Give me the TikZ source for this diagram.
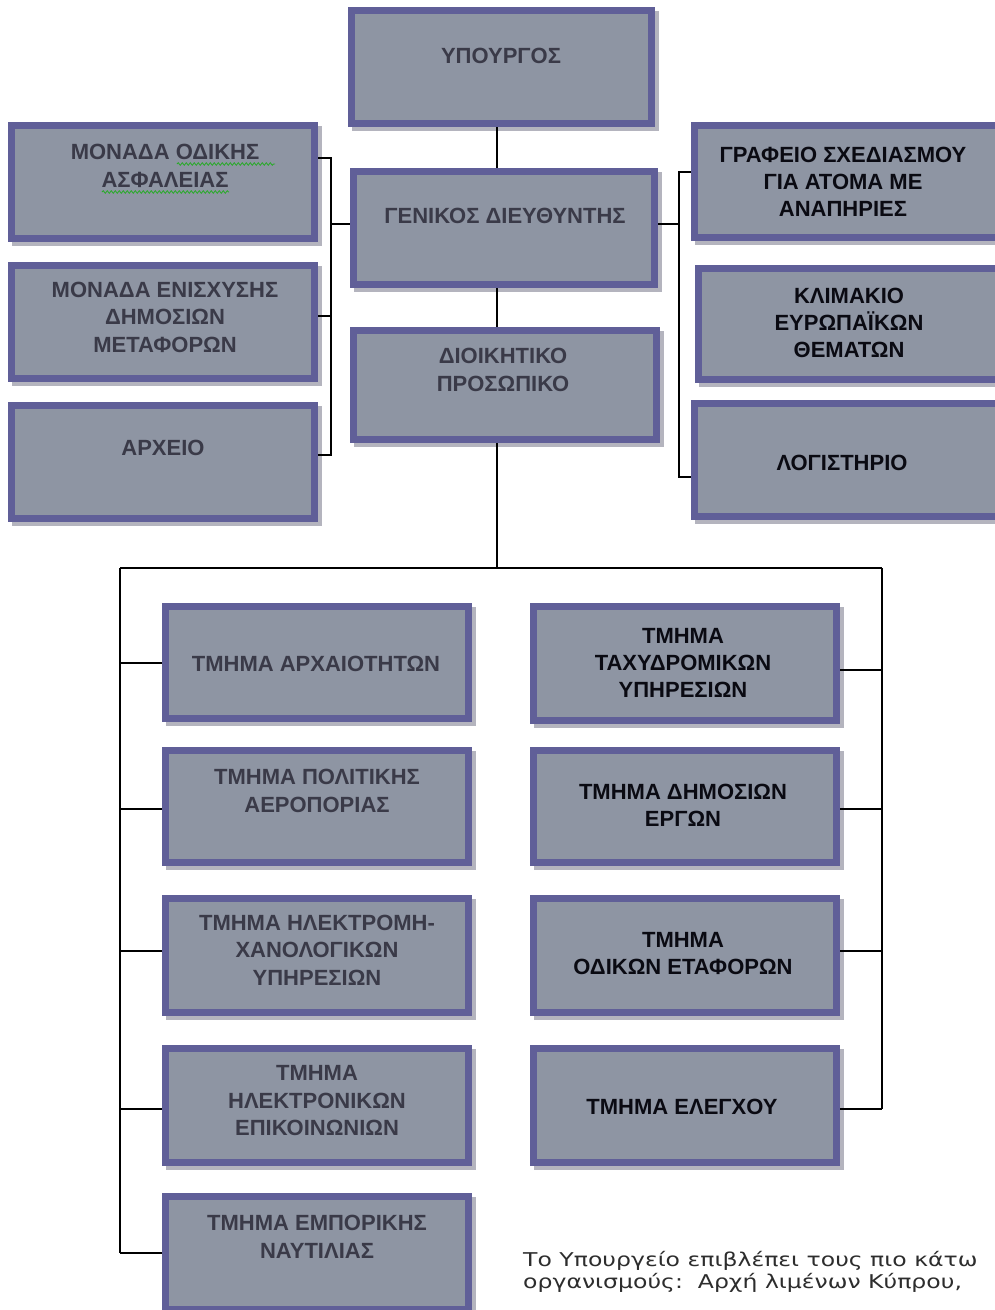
\documentclass[tikz,border=0pt]{standalone}
\usepackage{fontspec}
\setmainfont{Liberation Sans}
\newfontfamily\notefont[FakeStretch=1.24]{DejaVu Sans}
\usetikzlibrary{backgrounds,decorations.pathmorphing}

\definecolor{boxfill}{RGB}{142,149,163}
\definecolor{boxedge}{RGB}{96,95,152}
\definecolor{boxshadow}{RGB}{180,180,190}
\definecolor{greytext}{RGB}{58,58,72}
\definecolor{darktext}{RGB}{10,10,18}
\definecolor{notegrey}{RGB}{45,45,45}
\definecolor{spellgreen}{RGB}{40,170,40}

\tikzset{
  orgbox/.style={draw=boxedge, fill=boxfill, line width=7pt, inner sep=0pt},
  greylabel/.style={font=\bfseries\fontsize{22}{27.5}\selectfont, text=greytext, align=center, inner sep=0pt},
  darklabel/.style={font=\bfseries\fontsize{22}{27}\selectfont, text=darktext, align=center, inner sep=0pt},
  wire/.style={draw=black, line width=1.4pt},
  spell/.style={draw=spellgreen, line width=0.8pt, decorate,
    decoration={snake, amplitude=1.3pt, segment length=4pt}},
}

% \orgunit{name}{x1}{y1}{x2}{y2}: box given by its outer border edges
\newcommand\orgunit[5]{%
  \node[orgbox, minimum width={#4-#2-7}, minimum height={#5-#3-7}]
    (#1) at ({(#2+#4)/2},{(#3+#5)/2}) {};}

\begin{document}
\begin{tikzpicture}[x=1pt, y=-1pt]
\clip (0,0) rectangle (995,1310);

% central column
\orgunit{min}{348}{7}{655}{127}
\orgunit{gen}{350}{168}{658}{288}
\orgunit{dio}{350}{327}{660}{443}

% units on the left of the director
\orgunit{mon1}{8}{122}{318}{242}
\orgunit{mon2}{8}{262}{318}{382}
\orgunit{arch}{8}{402}{318}{522}

% units on the right of the director
\orgunit{graf}{691}{122}{1002}{241}
\orgunit{klim}{695}{265}{1002}{383}
\orgunit{log}{691}{400}{1002}{520}

% departments, left column
\orgunit{arx}{162}{603}{472}{722}
\orgunit{pol}{162}{747}{472}{866}
\orgunit{hlm}{162}{895}{472}{1016}
\orgunit{hln}{162}{1045}{472}{1166}
\orgunit{emp}{162}{1193}{472}{1313}

% departments, right column
\orgunit{tax}{530}{603}{840}{724}
\orgunit{dim}{530}{747}{840}{866}
\orgunit{odi}{530}{895}{840}{1016}
\orgunit{ele}{530}{1045}{840}{1166}

% white page and soft shadows behind every box
\begin{scope}[on background layer]
  \fill[white] (0,0) rectangle (995,1310);
  \foreach \n in {min,gen,dio,mon1,mon2,arch,graf,klim,log,arx,pol,hlm,hln,emp,tax,dim,odi,ele}
    \fill[boxshadow] ([shift={(4,4)}]\n.north west) rectangle ([shift={(4,4)}]\n.south east);
\end{scope}

% labels
\node[greylabel] (min-t)  at (501,56)  {ΥΠΟΥΡΓΟΣ};
\node[greylabel] (gen-t)  at (505,216) {ΓΕΝΙΚΟΣ ΔΙΕΥΘΥΝΤΗΣ};
\node[greylabel] (dio-t)  at (503,370) {ΔΙΟΙΚΗΤΙΚΟ\\ΠΡΟΣΩΠΙΚΟ};
\node[greylabel] (mon1-t) at (165,166) {ΜΟΝΑΔΑ ΟΔΙΚΗΣ\\ΑΣΦΑΛΕΙΑΣ};
\node[greylabel] (mon2-t) at (165,317) {ΜΟΝΑΔΑ ΕΝΙΣΧΥΣΗΣ\\ΔΗΜΟΣΙΩΝ\\ΜΕΤΑΦΟΡΩΝ};
\node[greylabel] (arch-t) at (163,448) {ΑΡΧΕΙΟ};

\node[darklabel] (graf-t) at (843,182) {ΓΡΑΦΕΙΟ ΣΧΕΔΙΑΣΜΟΥ\\ΓΙΑ ΑΤΟΜΑ ΜΕ\\ΑΝΑΠΗΡΙΕΣ};
\node[darklabel] (klim-t) at (849,323) {ΚΛΙΜΑΚΙΟ\\ΕΥΡΩΠΑΪΚΩΝ\\ΘΕΜΑΤΩΝ};
\node[darklabel] (log-t)  at (842,463) {ΛΟΓΙΣΤΗΡΙΟ};

\node[greylabel] (arx-t) at (316,664)  {ΤΜΗΜΑ ΑΡΧΑΙΟΤΗΤΩΝ};
\node[greylabel] (pol-t) at (317,791)  {ΤΜΗΜΑ ΠΟΛΙΤΙΚΗΣ\\ΑΕΡΟΠΟΡΙΑΣ};
\node[greylabel] (hlm-t) at (317,950)  {ΤΜΗΜΑ ΗΛΕΚΤΡΟΜΗ-\\ΧΑΝΟΛΟΓΙΚΩΝ\\ΥΠΗΡΕΣΙΩΝ};
\node[greylabel] (hln-t) at (317,1101) {ΤΜΗΜΑ\\ΗΛΕΚΤΡΟΝΙΚΩΝ\\ΕΠΙΚΟΙΝΩΝΙΩΝ};
\node[greylabel] (emp-t) at (317,1237) {ΤΜΗΜΑ ΕΜΠΟΡΙΚΗΣ\\ΝΑΥΤΙΛΙΑΣ};

\node[darklabel] (tax-t) at (683,663)  {ΤΜΗΜΑ\\ΤΑΧΥΔΡΟΜΙΚΩΝ\\ΥΠΗΡΕΣΙΩΝ};
\node[darklabel] (dim-t) at (683,805)  {ΤΜΗΜΑ ΔΗΜΟΣΙΩΝ\\ΕΡΓΩΝ};
\node[darklabel] (odi-t) at (683,954)  {ΤΜΗΜΑ\\ΟΔΙΚΩΝ ΕΤΑΦΟΡΩΝ};
\node[darklabel] (ele-t) at (682,1107) {ΤΜΗΜΑ ΕΛΕΓΧΟΥ};

% spell-check marks under two words
\draw[spell] (177,164) -- (275,164);
\draw[spell] (102,192) -- (229,192);

% bus and bracket points
\coordinate (spine) at (497,568);
\coordinate (lbus)  at (120,568);
\coordinate (rbus)  at (882,568);
\coordinate (lb1) at (120,663);
\coordinate (lb2) at (120,809);
\coordinate (lb3) at (120,951);
\coordinate (lb4) at (120,1109);
\coordinate (lb5) at (120,1253);
\coordinate (rb1) at (882,670);
\coordinate (rb2) at (882,809);
\coordinate (rb3) at (882,951);
\coordinate (rb4) at (882,1109);
\coordinate (ul1) at (331,158);
\coordinate (ulg) at (331,224);
\coordinate (ul2) at (331,316);
\coordinate (ul3) at (331,455);
\coordinate (ur1) at (679,172);
\coordinate (urg) at (679,224);
\coordinate (ur3) at (679,477);

% central spine
\draw[wire] (min.south -| spine) -- (gen.north -| spine);
\draw[wire] (gen.south -| spine) -- (dio.north -| spine);
\draw[wire] (dio.south -| spine) -- (spine);
\draw[wire] (lbus) -- (rbus);

% left bracket
\draw[wire] (mon1.east |- ul1) -- (ul1) -- (ul3) -- (arch.east |- ul3);
\draw[wire] (mon2.east |- ul2) -- (ul2);
\draw[wire] (ulg) -- (gen.west |- ulg);

% right bracket
\draw[wire] (graf.west |- ur1) -- (ur1) -- (ur3) -- (log.west |- ur3);
\draw[wire] (gen.east |- urg) -- (urg);

% left department bus
\draw[wire] (lbus) -- (lb5);
\draw[wire] (lb1) -- (arx.west |- lb1);
\draw[wire] (lb2) -- (pol.west |- lb2);
\draw[wire] (lb3) -- (hlm.west |- lb3);
\draw[wire] (lb4) -- (hln.west |- lb4);
\draw[wire] (lb5) -- (emp.west |- lb5);

% right department bus
\draw[wire] (rbus) -- (rb4);
\draw[wire] (tax.east |- rb1) -- (rb1);
\draw[wire] (dim.east |- rb2) -- (rb2);
\draw[wire] (odi.east |- rb3) -- (rb3);
\draw[wire] (ele.east |- rb4) -- (rb4);

% note under the chart
\node[font=\notefont\fontsize{19}{22}\selectfont, text=notegrey, align=left,
      anchor=north west, inner sep=0pt] (note) at (523,1251)
  {Το Υπουργείο επιβλέπει τους πιο κάτω\\οργανισμούς:\ \ Αρχή λιμένων Κύπρου,};
\end{tikzpicture}
\end{document}
